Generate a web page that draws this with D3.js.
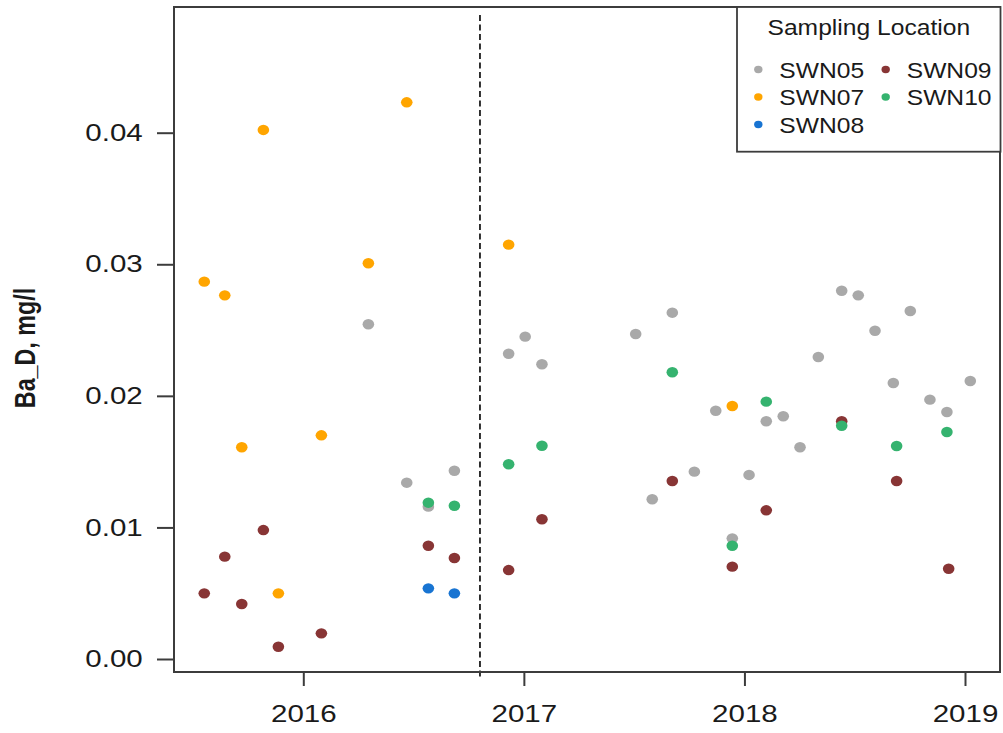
<!DOCTYPE html>
<html>
<head>
<meta charset="utf-8">
<script src="https://cdn.jsdelivr.net/npm/d3@7"></script>
<style>
  html, body { margin: 0; padding: 0; background: #ffffff; }
  svg { display: block; }
  text { font-family: "Liberation Sans", Arial, sans-serif; fill: #1a1a1a; }
</style>
</head>
<body>
<svg id="chart" width="1003" height="733"></svg>
<script>
// ---------- data ----------
const seriesNames = ["SWN05", "SWN07", "SWN08", "SWN09", "SWN10"];
const seriesColors = ["#a9a9a9", "#ffa500", "#1874d2", "#883535", "#35b36f"];

const swn05Years = [2016.295, 2016.469, 2016.567, 2016.685, 2016.931, 2017.006, 2017.082, 2017.507, 2017.582, 2017.673, 2017.773, 2017.870, 2017.945, 2018.021, 2018.099, 2018.176, 2018.252, 2018.335, 2018.441, 2018.516, 2018.592, 2018.675, 2018.752, 2018.841, 2018.918, 2019.024];
const swn05Values = [0.02544, 0.01340, 0.01158, 0.01431, 0.02320, 0.02450, 0.02240, 0.02470, 0.01214, 0.02632, 0.01424, 0.01887, 0.00917, 0.01399, 0.01807, 0.01845, 0.01609, 0.02295, 0.02799, 0.02764, 0.02495, 0.02098, 0.02645, 0.01971, 0.01877, 0.02113];

const swn07Years = [2015.551, 2015.644, 2015.721, 2015.819, 2015.887, 2016.082, 2016.295, 2016.469, 2016.931, 2017.945];
const swn07Values = [0.02868, 0.02764, 0.01609, 0.04021, 0.00499, 0.01700, 0.03008, 0.04231, 0.03149, 0.01923];

const swn08Years = [2016.567, 2016.685];
const swn08Values = [0.00537, 0.00499];

const swn09Years = [2015.551, 2015.644, 2015.721, 2015.819, 2015.887, 2016.082, 2016.567, 2016.685, 2016.931, 2017.082, 2017.673, 2017.945, 2018.099, 2018.441, 2018.690, 2018.926];
const swn09Values = [0.00499, 0.00778, 0.00418, 0.00980, 0.00093, 0.00195, 0.00861, 0.00768, 0.00676, 0.01062, 0.01353, 0.00702, 0.01130, 0.01807, 0.01353, 0.00686];

const swn10Years = [2016.567, 2016.685, 2016.931, 2017.082, 2017.673, 2017.945, 2018.099, 2018.441, 2018.690, 2018.918];
const swn10Values = [0.01188, 0.01165, 0.01480, 0.01621, 0.02179, 0.00861, 0.01956, 0.01773, 0.01619, 0.01725];

const xTicks = [2016, 2017, 2018, 2019];
const yTicks = [0.00, 0.01, 0.02, 0.03, 0.04];
const dividerYear = 2016.801;
const yTitle = "Ba_D, mg/l";
const legendTitle = "Sampling Location";

const seriesYears = [swn05Years, swn07Years, swn08Years, swn09Years, swn10Years];
const seriesValues = [swn05Values, swn07Values, swn08Values, swn09Values, swn10Values];

// ---------- layout ----------
const box = { left: 174, right: 1000, top: 7, bottom: 672 };
const sx = 1.23; // horizontal stretch of the original image

const x = d3.scaleLinear().domain([2016, 2019]).range([303.3, 965]);
const y = d3.scaleLinear().domain([0, 0.04]).range([659, 132.7]);

const svg = d3.select("#chart");

// dashed divider
svg.append("line")
  .attr("x1", x(dividerYear)).attr("x2", x(dividerYear))
  .attr("y1", 15).attr("y2", 677)
  .attr("stroke", "#000").attr("stroke-width", 1.6)
  .attr("stroke-dasharray", "6,3.5");

// points, drawn in series order
seriesNames.forEach((name, i) => {
  const pts = seriesYears[i].map((yr, j) => ({ yr, v: seriesValues[i][j] }));
  svg.append("g").selectAll("ellipse").data(pts).join("ellipse")
    .attr("cx", d => x(d.yr))
    .attr("cy", d => y(d.v))
    .attr("rx", 5.8).attr("ry", 5.2)
    .attr("fill", seriesColors[i]);
});

// y axis
const yAxis = svg.append("g")
  .attr("transform", `translate(${box.left},0)`)
  .call(d3.axisLeft(y).tickValues(yTicks).tickFormat(d3.format(".2f")).tickSize(17).tickSizeOuter(0));
yAxis.select(".domain").remove();
yAxis.selectAll(".tick line").attr("stroke", "#3c3c3c").attr("stroke-width", 2);
yAxis.selectAll(".tick text")
  .attr("x", -31.3 / sx)
  .attr("transform", `scale(${sx},1)`)
  .attr("font-size", 24)
  .attr("fill", "#1a1a1a")
  .style("font-family", '"Liberation Sans", Arial, sans-serif');

// x axis
const xAxis = svg.append("g")
  .attr("transform", `translate(0,${box.bottom})`)
  .call(d3.axisBottom(x).tickValues(xTicks).tickFormat(d3.format("d")).tickSize(14).tickSizeOuter(0));
xAxis.select(".domain").remove();
xAxis.selectAll(".tick line").attr("stroke", "#3c3c3c").attr("stroke-width", 2);
xAxis.selectAll(".tick text")
  .attr("y", 33.3)
  .attr("transform", `scale(${sx},1)`)
  .attr("font-size", 24)
  .attr("fill", "#1a1a1a")
  .style("font-family", '"Liberation Sans", Arial, sans-serif');

// plot box
svg.append("rect")
  .attr("x", box.left).attr("y", box.top)
  .attr("width", box.right - box.left).attr("height", box.bottom - box.top)
  .attr("fill", "none").attr("stroke", "#3c3c3c").attr("stroke-width", 2);

// y title
svg.append("text")
  .attr("transform", `translate(35,348) scale(${sx},1) rotate(-90)`)
  .attr("text-anchor", "middle")
  .attr("font-size", 23.3)
  .attr("font-weight", "bold")
  .attr("fill", "#000")
  .text(yTitle);

// legend
const lg = svg.append("g");
lg.append("rect")
  .attr("x", 737).attr("y", 7).attr("width", 263.5).attr("height", 144.7)
  .attr("fill", "#fff").attr("stroke", "#3c3c3c").attr("stroke-width", 1.8);
lg.append("text")
  .attr("transform", `translate(868.8,35) scale(1.12,1)`)
  .attr("text-anchor", "middle")
  .attr("font-size", 22)
  .text(legendTitle);

const legendCols = [758.3, 885.7];
const legendRows = [69.5, 97, 124.5];
seriesNames.forEach((name, i) => {
  const col = i < 3 ? 0 : 1;
  const row = i < 3 ? i : i - 3;
  const cx = legendCols[col], cy = legendRows[row];
  lg.append("ellipse")
    .attr("cx", cx).attr("cy", cy).attr("rx", 4.2).attr("ry", 3.7)
    .attr("fill", seriesColors[i]);
  lg.append("text")
    .attr("transform", `translate(${cx + 21},${cy + 8}) scale(1.12,1)`)
    .attr("font-size", 22)
    .text(name);
});
</script>
</body>
</html>
